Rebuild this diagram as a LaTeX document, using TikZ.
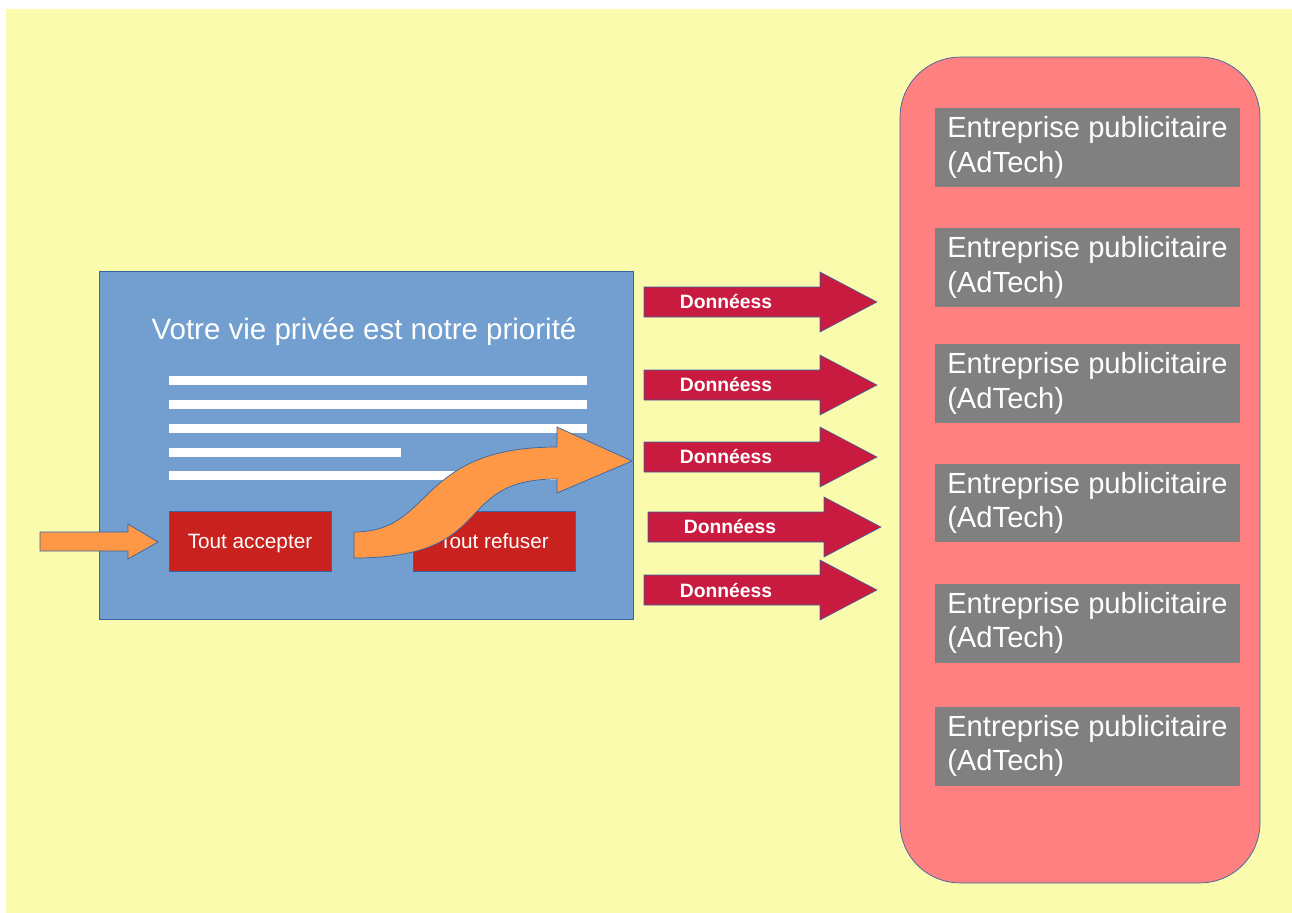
\documentclass[tikz,border=0pt]{standalone}
\usepackage{fontspec}
\setmainfont{Liberation Sans}
\usetikzlibrary{positioning}
\definecolor{fond}{HTML}{FBFBAD}
\definecolor{panneau}{HTML}{729FCF}
\definecolor{bord}{HTML}{3465A4}
\definecolor{rougebtn}{HTML}{C9211E}
\definecolor{orangeclair}{HTML}{FF9846}
\definecolor{saumon}{HTML}{FF8080}
\definecolor{gris}{HTML}{808080}
\definecolor{cramoisi}{HTML}{C81B3F}

\begin{document}
\begin{tikzpicture}[x=0.02cm,y=-0.02cm,
  ecran/.style={draw=bord,fill=panneau,minimum width=10.68cm,minimum height=6.96cm},
  btn/.style={draw=bord,fill=rougebtn,text=white,minimum width=3.24cm,minimum height=1.2cm,
    text height=9pt,text depth=0pt,font=\fontsize{11.8}{14}\selectfont},
  fleche/.style={draw=bord,fill=orangeclair,line width=0.4pt},
  donnees/.style={draw=bord,fill=cramoisi,line width=0.3pt},
  dlabel/.style={text=white,font=\bfseries\fontsize{11}{13}\selectfont},
  adbox/.style={fill=gris,text=white,align=left,minimum width=6.12cm,minimum height=1.58cm,font=\fontsize{16.6}{19.6}\selectfont}]
\useasboundingbox (0,0) rectangle (1292,913);
\fill[fond] (6,9) rectangle (1292,913);

% bandeau de consentement
\node[ecran] (ecran) at (366,445) {};
\node[text=white,font=\fontsize{16.8}{19.3}\selectfont] (titre) at (364,332) {Votre vie privée est notre priorité};
\foreach \y/\xb in {380/587,404/587,428/587,452/401,475/587}
  \fill[white] (169,\y-4.5) rectangle (\xb,\y+4.5);
\node[btn] (accepter) at (250,541) {Tout accepter};
\node[btn] (refuser) at (494,541) {Tout refuser};

\filldraw[fleche] (40,532)--(128,532)--(128,524)--(158,542)--(128,559)--(128,551)--(40,551)--cycle;
\filldraw[fleche] (354,532) .. controls (435,532) and (415,447) .. (557,447)
  -- (557,427) -- (632,461) -- (557,493) -- (557,479)
  .. controls (450,479) and (500,558) .. (354,558) -- cycle;

% flux de donnees
\foreach \i/\x/\y in {1/644/302,2/644/385,3/644/457,4/648/527,5/644/590}{
  \filldraw[donnees] (\x,\y-15)--(\x+176,\y-15)--(\x+176,\y-30)--(\x+233,\y)
    --(\x+176,\y+30)--(\x+176,\y+15)--(\x,\y+15)--cycle;
  \node[dlabel] (d\i) at (\x+82,\y) {Donnéess};
}

% entreprises
\node[draw=bord,fill=saumon,rounded corners=1.2cm,minimum width=7.2cm,minimum height=16.52cm] (adtech) at (1080,470) {};
\foreach \i/\y in {1/147.5,2/267.5,3/383.5,4/503,5/623,6/746}
  \node[adbox] (ad\i) at (1087.5,\y) {Entreprise publicitaire\\(AdTech)};
\end{tikzpicture}
\end{document}
